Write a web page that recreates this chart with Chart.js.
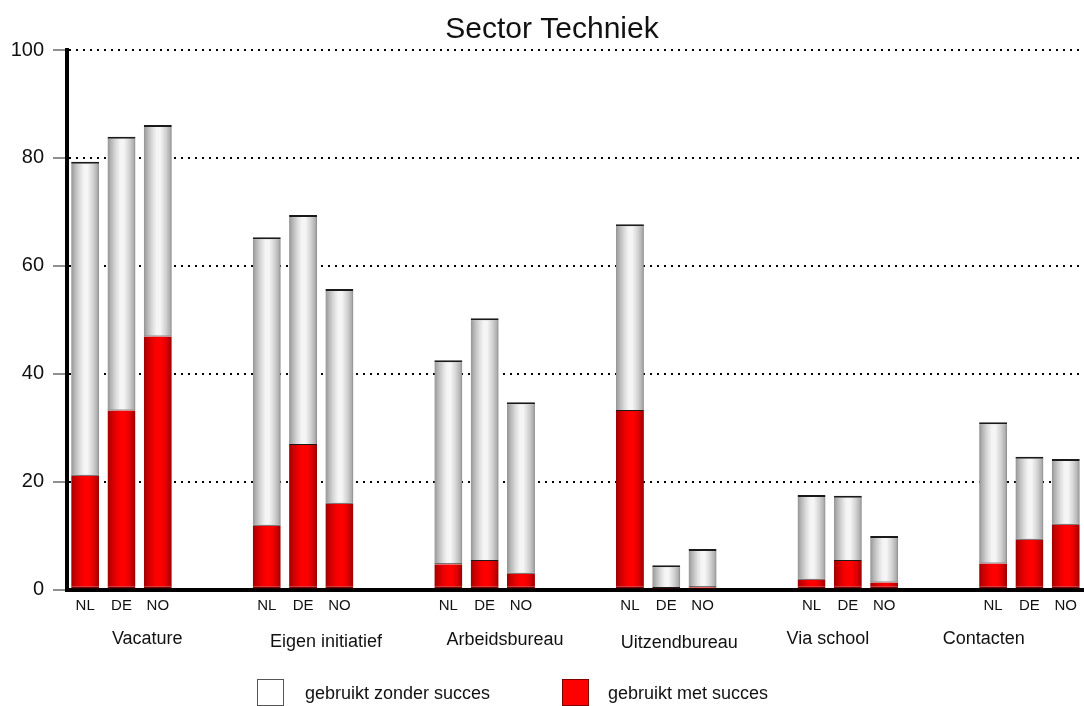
<!DOCTYPE html>
<html>
<head>
<meta charset="utf-8">
<script src="https://cdn.jsdelivr.net/npm/chart.js@4.4.1/dist/chart.umd.min.js"></script>
<style>
  html, body { margin: 0; padding: 0; background: #fff; }
  #wrap { width: 1084px; height: 706px; position: relative; }
</style>
</head>
<body>
<div id="wrap"><canvas id="c"></canvas></div>
<script>
// ---- data ----
const titleText = 'Sector Techniek';
const categories = ['Vacature', 'Eigen initiatief', 'Arbeidsbureau', 'Uitzendbureau', 'Via school', 'Contacten'];
const countries = ['NL', 'DE', 'NO'];
const seriesNames = ['gebruikt zonder succes', 'gebruikt met succes'];
// gebruikt met succes (red, bottom), per category: NL, DE, NO
const metSucces = [
  [21.1, 33.2, 46.9],
  [11.8, 26.8, 15.9],
  [4.7, 5.3, 2.9],
  [33.1, 0.3, 0.4],
  [1.8, 5.3, 1.3],
  [4.8, 9.2, 12.0]
];
// gebruikt zonder succes (white, top), per category: NL, DE, NO
const zonderSucces = [
  [58.2, 50.7, 39.2],
  [53.5, 42.6, 39.8],
  [37.8, 45.0, 31.8],
  [34.6, 4.2, 7.1],
  [15.7, 12.1, 8.6],
  [26.2, 15.4, 12.2]
];
const yTicks = [0, 20, 40, 60, 80, 100];

// ---- build slot table (3 bars + 2 empty slots per group) ----
const slotLabels = [];
const slotMet = [];
const slotZonder = [];
categories.forEach((cat, g) => {
  countries.forEach((c, i) => {
    slotLabels.push(c);
    slotMet.push(metSucces[g][i]);
    slotZonder.push(zonderSucces[g][i]);
  });
  if (g < categories.length - 1) {
    for (let k = 0; k < 2; k++) { slotLabels.push(''); slotMet.push(null); slotZonder.push(null); }
  }
});

const FONT = "'Liberation Sans', Arial, Helvetica, sans-serif";
Chart.defaults.font.family = FONT;
Chart.defaults.color = '#111';

const BAR_PCT = 0.77;
function barGradient(ctx, stops) {
  const chart = ctx.chart;
  const xs = chart.scales.x;
  if (!xs || ctx.dataIndex === undefined) return stops[0][1];
  const cx = xs.getPixelForValue(ctx.dataIndex);
  const slot = xs.width / xs.ticks.length;
  const w = slot * BAR_PCT;
  if (!isFinite(cx) || !isFinite(w)) return stops[0][1];
  const g = chart.ctx.createLinearGradient(cx - w / 2, 0, cx + w / 2, 0);
  stops.forEach(s => g.addColorStop(s[0], s[1]));
  return g;
}
const whiteStops = [[0, '#939393'], [0.12, '#b4b4b4'], [0.3, '#dbdbdb'], [0.45, '#f4f4f4'], [0.58, '#f6f6f6'], [0.78, '#d3d3d3'], [0.93, '#b0b0b0'], [1, '#888888']];
const redStops = [[0, '#9c0000'], [0.14, '#c80000'], [0.35, '#f00000'], [0.5, '#ff0000'], [0.62, '#ff0000'], [0.82, '#dc0000'], [1, '#980000']];

// title, group labels under the country labels, and legend
const textPlugin = {
  id: 'textLayer',
  afterDraw(chart) {
    const xs = chart.scales.x;
    const area = chart.chartArea;
    const c = chart.ctx;
    c.save();
    // title
    c.font = '30px ' + FONT;
    c.fillStyle = '#111';
    c.textAlign = 'center';
    c.textBaseline = 'alphabetic';
    c.fillText(titleText, 552, 38);
    // group labels
    const slotPos = [1.71, 6.63, 11.56, 16.36, 20.45, 24.74];
    const baseOff = [54, 57, 55, 58, 54, 54];
    c.font = '18px ' + FONT;
    categories.forEach((cat, i) => {
      c.fillText(cat, xs.getPixelForValue(slotPos[i]), area.bottom + baseOff[i]);
    });
    // legend
    const items = [
      { text: seriesNames[0], fill: '#ffffff', stroke: '#555555', bx: 257, tx: 305 },
      { text: seriesNames[1], fill: '#ff0000', stroke: '#800000', bx: 562, tx: 608 }
    ];
    c.textAlign = 'left';
    items.forEach(it => {
      c.fillStyle = it.fill;
      c.fillRect(it.bx, 679, 26, 26);
      c.strokeStyle = it.stroke;
      c.lineWidth = 1;
      c.strokeRect(it.bx + 0.5, 679.5, 26, 26);
      c.fillStyle = '#111';
      c.fillText(it.text, it.tx, 699);
    });
    c.restore();
  }
};

new Chart(document.getElementById('c'), {
  type: 'bar',
  data: {
    labels: slotLabels,
    datasets: [
      {
        label: seriesNames[1],
        data: slotMet,
        backgroundColor: ctx => barGradient(ctx, redStops),
        borderColor: '#7a0000',
        borderWidth: { top: 0, left: 0, right: 0, bottom: 2 },
        borderSkipped: false,
        barPercentage: BAR_PCT,
        categoryPercentage: 1,
        stack: 's'
      },
      {
        label: seriesNames[0],
        data: slotZonder,
        backgroundColor: ctx => barGradient(ctx, whiteStops),
        borderColor: '#1a1a1a',
        borderWidth: { top: 2, left: 0, right: 0, bottom: 1 },
        borderSkipped: false,
        barPercentage: BAR_PCT,
        categoryPercentage: 1,
        stack: 's'
      }
    ]
  },
  options: {
    responsive: true,
    maintainAspectRatio: false,
    animation: false,
    layout: { padding: { left: 0, right: -4, top: 50, bottom: 0 } },
    plugins: {
      legend: { display: false },
      tooltip: { enabled: false },
      title: { display: false }
    },
    scales: {
      x: {
        stacked: true,
        offset: true,
        grid: { display: false, drawTicks: false },
        border: { display: true, color: '#000', width: 4 },
        ticks: { autoSkip: false, maxRotation: 0, minRotation: 0, padding: 7, color: '#111', font: { size: 15 } },
        afterFit(scale) { scale.height = 116.5; }
      },
      y: {
        stacked: true,
        min: 0,
        max: 100,
        afterBuildTicks(scale) { scale.ticks = yTicks.map(v => ({ value: v })); },
        ticks: { padding: 9, color: '#111', font: { size: 20 } },
        grid: {
          color: '#000',
          lineWidth: 2,
          drawTicks: true,
          tickLength: 14,
          tickColor: '#6a6a6a',
          tickWidth: 1.5,
          tickBorderDash: []
        },
        border: { display: true, color: '#000', width: 4, dash: [2, 5] },
        afterFit(scale) { scale.width = 67; }
      }
    }
  },
  plugins: [textPlugin]
});
</script>
</body>
</html>
